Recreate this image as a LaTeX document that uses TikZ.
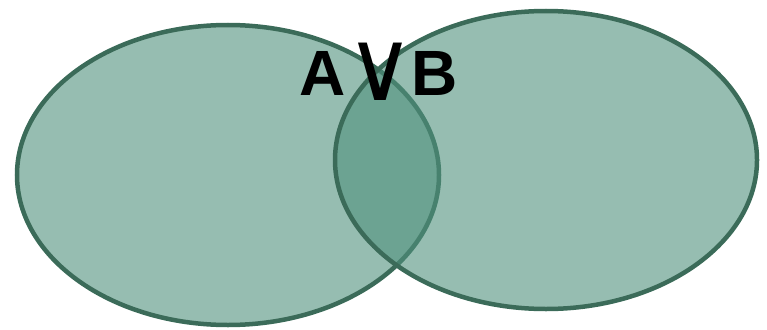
\documentclass[tikz,border=0pt]{standalone}
\usepackage{fontspec}
\setmainfont{Liberation Sans}
\newfontfamily\symfont{DejaVu Sans}
\definecolor{vfill}{RGB}{80,145,125}
\definecolor{vline}{RGB}{59,107,89}
\begin{document}
\begin{tikzpicture}[x=1pt,y=-1pt,
  setshape/.style={draw=vline, line width=4.5pt, fill=vfill, fill opacity=0.6},
  lbl/.style={font=\fontsize{64}{64}\selectfont\bfseries, inner sep=0pt, anchor=base}]
\useasboundingbox (0,0) rectangle (767,329);
\path[setshape] (228,175) ellipse [x radius=211, y radius=150];
\path[setshape] (546,160) ellipse [x radius=211, y radius=149];
\node[lbl] (a) at (323,95) {A};
\node[lbl, anchor=south] (v) at (380,101) {\symfont\mdseries\scalebox{1.45}[1.55]{∨}};
\node[lbl] (b) at (435,95) {B};
\end{tikzpicture}
\end{document}
